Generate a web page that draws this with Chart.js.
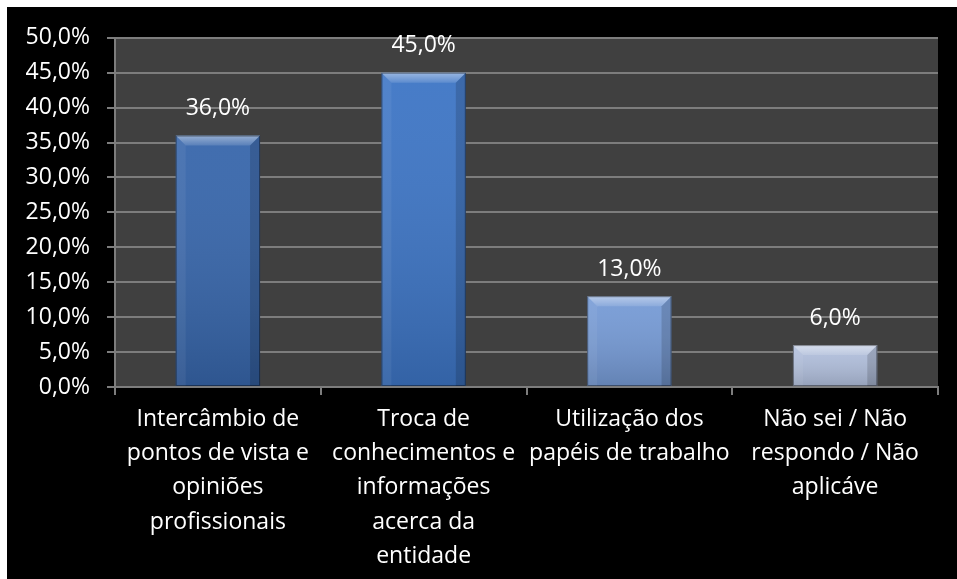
<!DOCTYPE html>
<html>
<head>
<meta charset="utf-8">
<script src="https://cdn.jsdelivr.net/npm/chart.js@4"></script>
<style>
  html, body { margin: 0; padding: 0; background: #ffffff; }
  #wrap { position: absolute; left: 7px; top: 7px; width: 950px; height: 572px; background: #000000; }
</style>
</head>
<body>
<div id="wrap"><canvas id="myChart" width="950" height="572"></canvas></div>
<script>
// datos del grafico
const categorias = [
    ["Intercâmbio de", "pontos de vista e", "opiniões", "profissionais"],
    ["Troca de", "conhecimentos e", "informações", "acerca da", "entidade"],
    ["Utilização dos", "papéis de trabalho"],
    ["Não sei / Não", "respondo / Não", "aplicáve"]
];
const valores = [36.0, 45.0, 13.0, 6.0];
const coresBarras = ['#3766ab', '#3d75c5', '#769bd6', '#b2c0dd'];
const yMin = 0;
const yMax = 50;
const yPasso = 5;

const fonte = "'Open Sans', sans-serif";
const tamFonte = 23;
const corGrade = '#7d7d7d';

function formatoPct(v) {
    return v.toFixed(1).replace('.', ',') + '%';
}

// fundo cinza da area do grafico
const fundoArea = {
    id: 'fundoArea',
    beforeDraw(chart) {
        const { ctx, chartArea } = chart;
        ctx.save();
        ctx.fillStyle = '#404040';
        ctx.fillRect(chartArea.left, chartArea.top, chartArea.right - chartArea.left, chartArea.bottom - chartArea.top);
        ctx.restore();
    }
};

// efeito de relevo nas barras + rotulos
const relevo = {
    id: 'relevo',
    afterDatasetsDraw(chart) {
        const ctx = chart.ctx;
        const meta = chart.getDatasetMeta(0);
        meta.data.forEach((bar, i) => {
            const l = bar.x - bar.width / 2;
            const r = bar.x + bar.width / 2;
            const t = bar.y;
            const b = bar.base;
            const h = b - t;
            const d = Math.min(10, h / 3);
            ctx.save();
            // escurece para baixo
            const g = ctx.createLinearGradient(0, t, 0, b);
            g.addColorStop(0, 'rgba(255,255,255,0.05)');
            g.addColorStop(1, 'rgba(0,0,0,0.16)');
            ctx.fillStyle = g;
            ctx.fillRect(l, t, r - l, h);
            // topo claro
            const gt = ctx.createLinearGradient(0, t, 0, t + d);
            gt.addColorStop(0, 'rgba(255,255,255,0.45)');
            gt.addColorStop(1, 'rgba(255,255,255,0.12)');
            ctx.beginPath();
            ctx.moveTo(l, t);
            ctx.lineTo(r, t);
            ctx.lineTo(r - d, t + d);
            ctx.lineTo(l + d, t + d);
            ctx.closePath();
            ctx.fillStyle = gt;
            ctx.fill();
            // lados
            ctx.beginPath();
            ctx.moveTo(l, t);
            ctx.lineTo(l + d, t + d);
            ctx.lineTo(l + d, b);
            ctx.lineTo(l, b);
            ctx.closePath();
            ctx.fillStyle = 'rgba(255,255,255,0.06)';
            ctx.fill();
            ctx.beginPath();
            ctx.moveTo(r, t);
            ctx.lineTo(r - d, t + d);
            ctx.lineTo(r - d, b);
            ctx.lineTo(r, b);
            ctx.closePath();
            ctx.fillStyle = 'rgba(0,0,0,0.15)';
            ctx.fill();
            // contorno
            ctx.strokeStyle = 'rgba(0,0,0,0.4)';
            ctx.lineWidth = 1;
            ctx.strokeRect(l + 0.5, t + 0.5, r - l - 1, h - 1);
            // rotulo
            ctx.fillStyle = '#ffffff';
            ctx.font = tamFonte + 'px ' + fonte;
            ctx.textAlign = 'center';
            ctx.textBaseline = 'middle';
            ctx.fillText(formatoPct(valores[i]), bar.x, t - 27);
            ctx.restore();
        });
    }
};

const ctx = document.getElementById('myChart').getContext('2d');
const myChart = new Chart(ctx, {
    type: 'bar',
    data: {
        labels: categorias,
        datasets: [{
            data: valores,
            backgroundColor: coresBarras,
            borderWidth: 0,
            barPercentage: 0.41,
            categoryPercentage: 1.0
        }]
    },
    options: {
        responsive: false,
        animation: false,
        layout: { padding: { top: 30, right: 19, left: 0, bottom: 0 } },
        plugins: {
            legend: { display: false },
            tooltip: { enabled: false }
        },
        scales: {
            x: {
                afterFit(scale) { scale.height = 192; },
                grid: {
                    offset: true,
                    drawOnChartArea: false,
                    drawTicks: true,
                    tickLength: 8,
                    color: corGrade,
                    lineWidth: 2
                },
                border: { color: corGrade, width: 2 },
                ticks: {
                    color: '#ffffff',
                    padding: 7,
                    maxRotation: 0,
                    autoSkip: false,
                    font: { family: fonte, size: tamFonte, lineHeight: 34.3 / tamFonte }
                }
            },
            y: {
                min: yMin,
                max: yMax,
                afterFit(scale) { scale.width = 108; },
                grid: {
                    color: corGrade,
                    lineWidth: 2,
                    tickLength: 8
                },
                border: { color: corGrade, width: 2 },
                ticks: {
                    stepSize: yPasso,
                    color: '#ffffff',
                    padding: 17,
                    font: { family: fonte, size: tamFonte },
                    callback: v => formatoPct(v)
                }
            }
        }
    },
    plugins: [fundoArea, relevo]
});
</script>
</body>
</html>
